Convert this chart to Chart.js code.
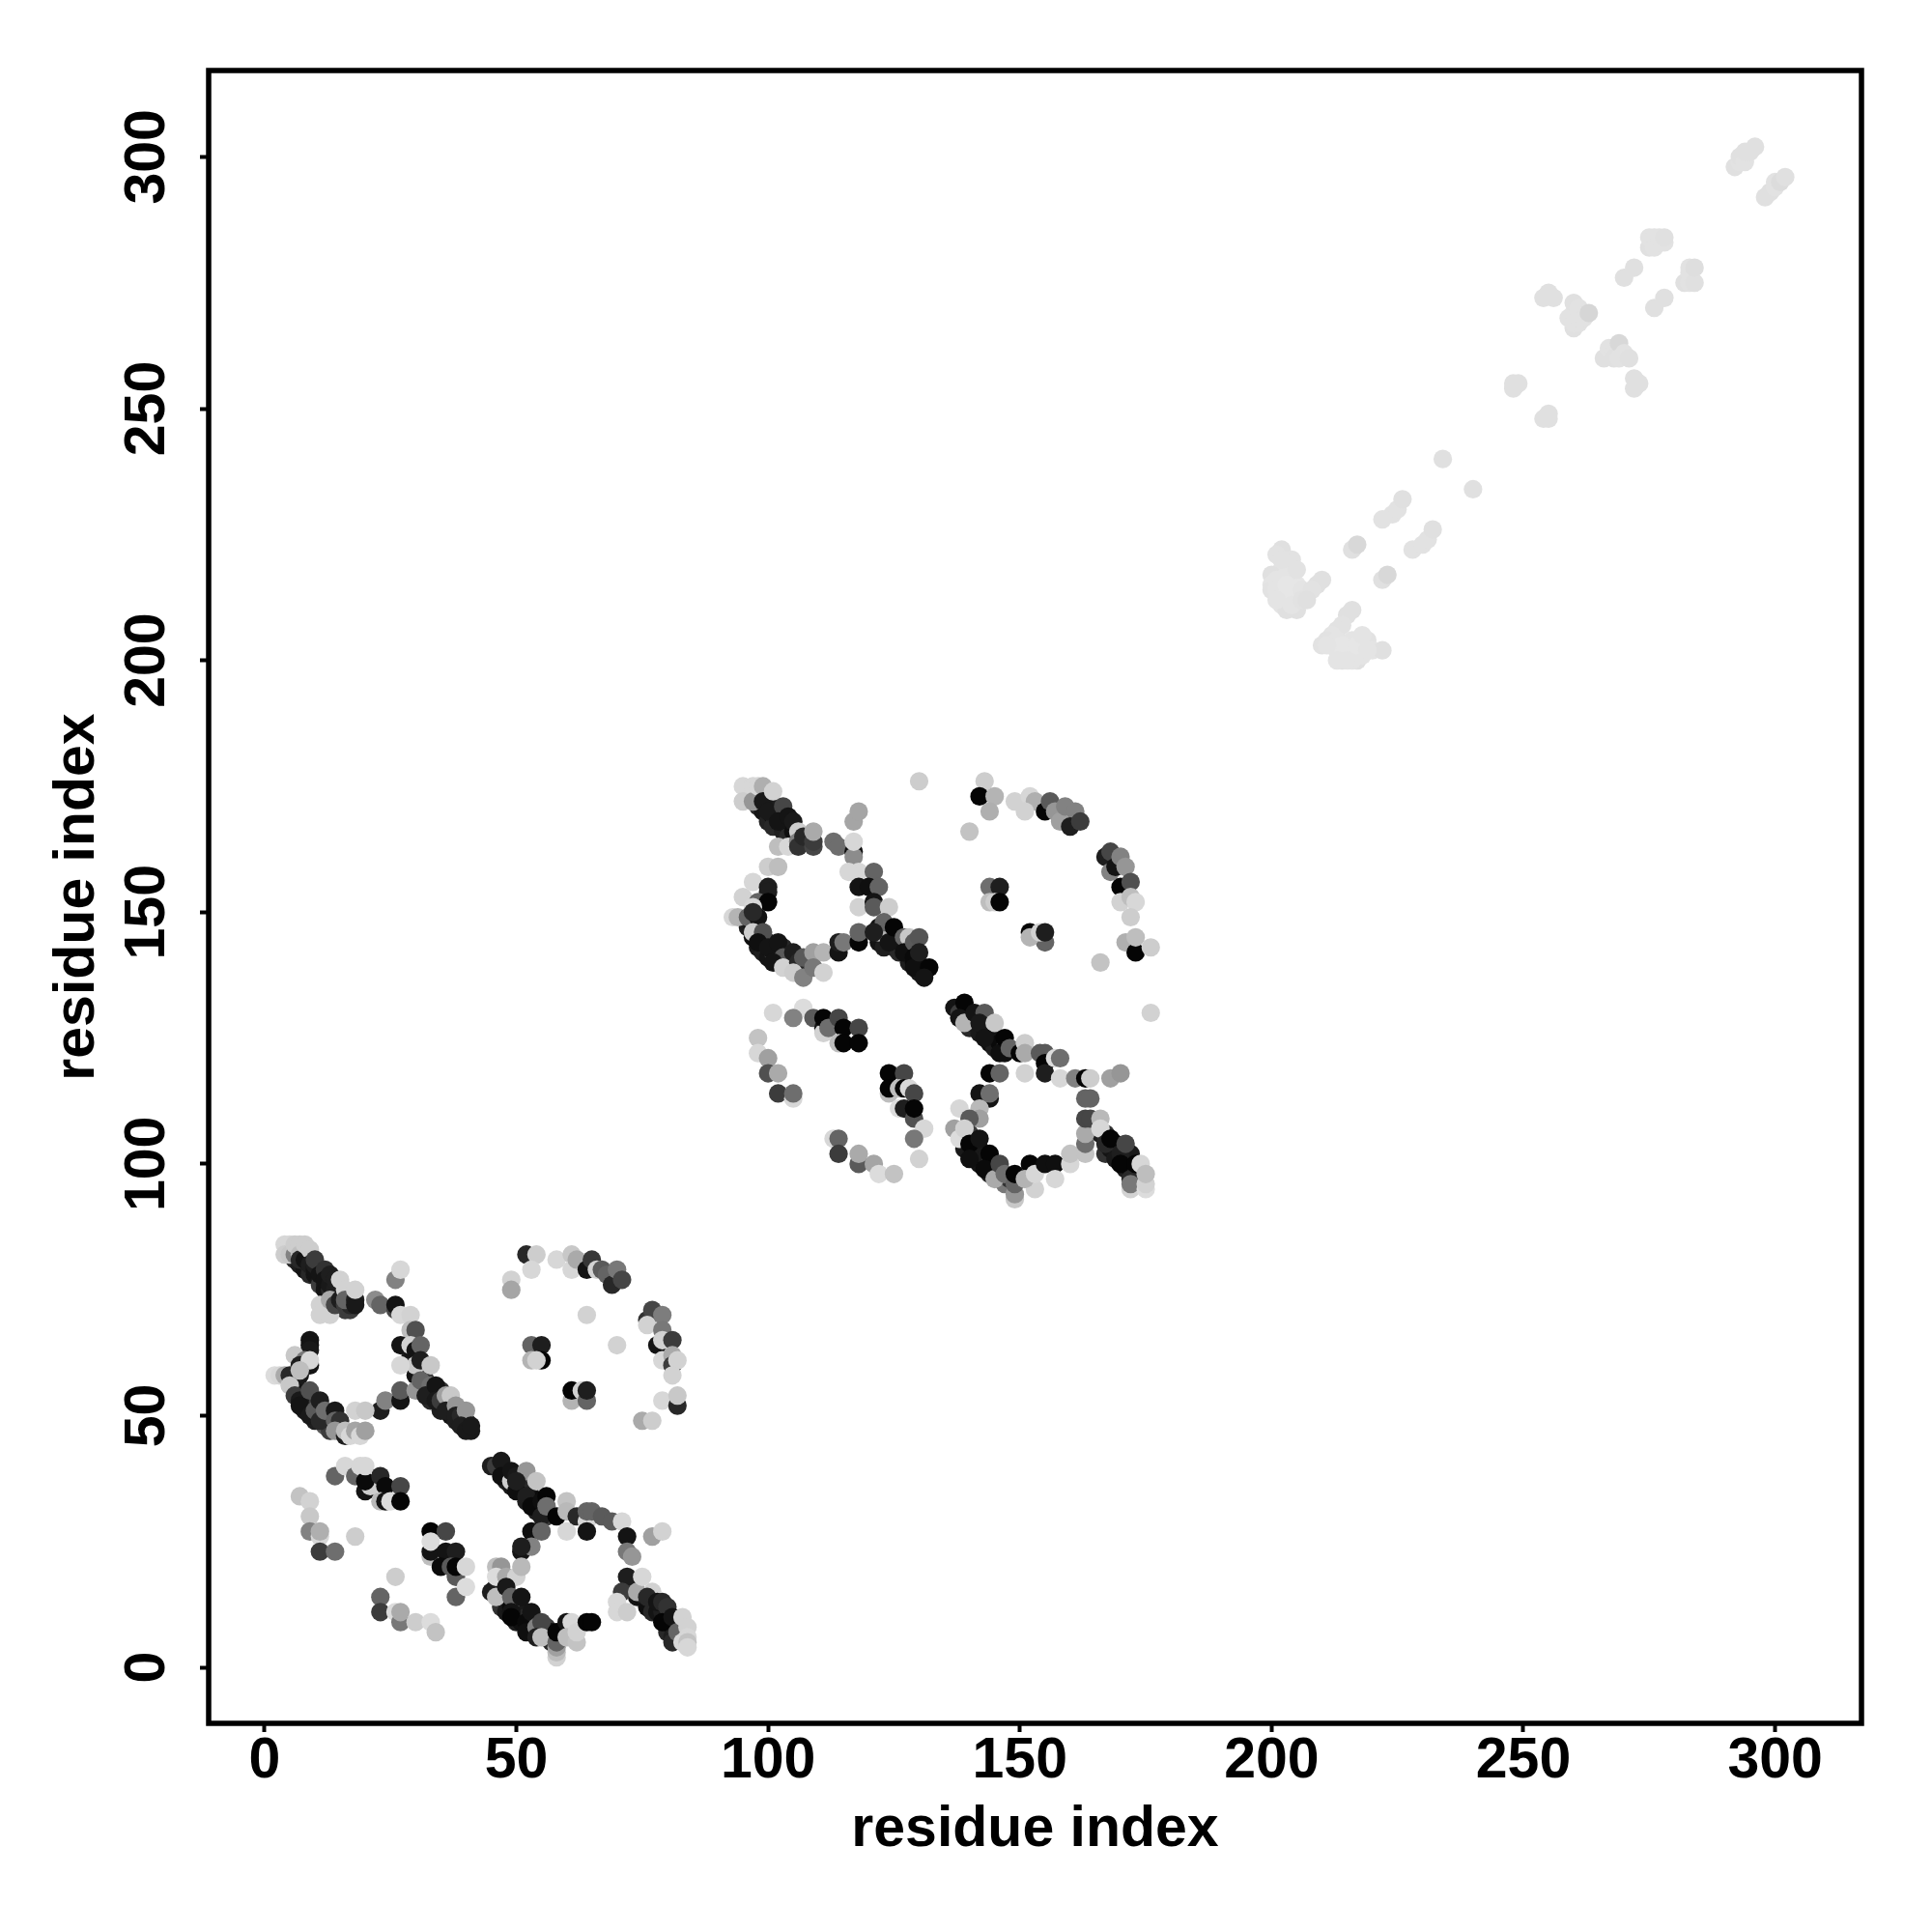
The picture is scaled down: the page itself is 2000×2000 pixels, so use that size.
<!DOCTYPE html>
<html>
<head>
<meta charset="utf-8">
<style>html,body{margin:0;padding:0;background:#fff}#w{width:2000px;height:2000px}</style>
<script src="https://cdn.jsdelivr.net/npm/chart.js@4"></script>
</head>
<body>
<div id="w"><canvas id="c" width="2000" height="2000"></canvas></div>
<script>
const tickValues = [0, 50, 100, 150, 200, 250, 300];
const axisTitle = 'residue index';

// each entry: residue i, residue j, grey shade of the contact
const denseBandsA = [
[6,81,40],[7,80,30],[8,80,25],[8,79,20],[9,79,30],[9,78,40],[10,78,20],[11,77,25],[11,76,60],[12,76,30],[12,75,20],[13,75,40],[14,74,30],[15,74,20],[15,72,50],[14,73,70],[16,71,60],[17,71,60],
[6,56,40],[6,55,30],[7,55,20],[8,54,30],[8,52,40],[8,51,25],[9,53,20],[10,53,60],[10,49,30],[11,51,20],[12,49,30],[12,48,90],[13,50,30],[13,47,60],[15,47,30],
[31,55,30],[32,57,60],[33,55,25],[33,53,40],[34,54,20],[35,55,50],[35,51,30],[36,52,25],[37,50,20],[37,52,40],[38,49,30],[39,51,20],[40,49,40],[41,47,25],
[29,62,40],[29,61,20],[30,58,20],[31,59,40]
];
const denseBandsB = [
[47,39,20],[48,38,20],[48,37,30],[49,36,25],[50,36,15],[51,37,30],[51,35,25],[52,36,40],[52,33,30],[53,34,20],[53,33,60],[54,33,10],[54,31,30],[55,32,10],[56,31,20],[56,30,60],
[46,16,40],[47,16,30],[47,14,20],[47,12,50],[48,13,15],[48,11,25],[49,12,10],[50,12,40],[50,10,20],[50,9,30],[51,11,70],[51,9,15],[52,11,25],[52,10,40],[53,8,20],[54,9,30],[55,7,30],[56,8,60],[57,7,20],[56,6,70],[57,5,40],
[73,16,40],[74,14,20],[75,14,15],[76,13,30],[76,12,15],[77,13,25],[77,11,40],[78,11,20],[79,11,30],[80,10,25],[80,8,15],[80,7,40],[81,8,20],[81,6,30],[82,9,25],[83,8,50]
];
const denseBandsC = [
[98,173,25],[98,171,40],[99,170,20],[100,172,30],[100,168,35],[101,169,20],[101,167,40],[102,170,30],[103,168,15],[103,166,30],[104,167,20],[104,165,40],[105,166,15],[106,165,40],
[96,147,30],[97,147,20],[97,145,15],[98,146,30],[98,143,25],[99,144,20],[99,142,30],[100,144,40],[100,141,20],[101,142,60],[102,142,20],[102,140,30],[103,143,40],[104,141,25],[104,139,40],[105,140,30],[106,138,120],
[122,147,20],[122,144,20],[123,145,15],[123,143,30],[124,146,40],[125,144,20],[125,143,30],[126,144,15],[126,142,40],[127,143,20],[128,142,25],[128,140,30],[129,140,10],[130,139,15],[130,138,25],[131,139,30]
];
const denseBandsD = [
[138,129,30],[139,130,30],[140,129,20],[140,127,40],[141,128,15],[142,129,30],[142,126,25],[143,127,20],[144,126,25],[144,124,15],[145,125,20],[145,123,30],[146,124,10],[147,122,15],[147,123,50],
[139,105,30],[139,103,25],[140,106,60],[141,103,15],[141,101,30],[141,104,60],[142,103,25],[142,100,20],[143,101,25],[144,100,40],[144,98,30],[145,99,25],[146,98,40],[147,96,120],[148,97,50],
[165,107,40],[166,106,30],[167,106,50],[167,102,50],[168,103,20],[169,104,15],[169,101,25],[170,103,40],[171,101,15],[171,99,30],[172,102,25],[172,99,15],[173,98,30],[173,96,60]
];
const helixPairA = [
[4,84,215],[5,84,215],[4,82,205],[5,82,200],[6,82,130],[6,84,205],[7,84,205],[7,82,190],[7,81,40],[8,81,20],[8,84,205],[9,83,205],[9,80,30],[10,79,20],[10,80,30],[10,81,60],[11,78,20],[12,79,50],[12,77,20],[13,76,25],[13,78,30],[14,75,30],[14,77,30],[15,77,210],[11,72,210],[11,70,210],[13,70,210],[13,73,170],[14,72,70],[15,73,30],[16,75,210],[16,72,60],[17,72,40],[16,73,100],[18,73,30],[18,72,25],[18,75,210]
];
const ringLoopA = [
[22,73,140],[23,72,100],[26,71,70],[26,72,20],[27,70,215],[29,70,210],[26,77,130],[27,79,215],[29,67,190],[30,67,80],[27,64,20],[29,64,210],[30,63,20],[31,64,100],[30,60,200],[27,60,215],[31,61,30],[33,60,200],
[23,51,30],[24,53,130],[27,53,20],[27,55,90],
[9,65,20],[9,64,20],[9,63,25],[6,62,200],[8,61,120],[7,60,30],[9,60,20],[9,61,215],[2,58,220],[3,58,215],[4,58,170],[5,58,40],[7,58,25],[7,59,190],[5,56,200],
[6,54,60],[7,53,25],[7,52,20],[9,55,80],[9,50,25],[10,51,90],[11,53,30],[11,49,40],[12,51,110],[14,51,25],[14,49,100],[15,49,50],[14,47,150],[16,46,30],[16,47,190],[17,46,215],[18,51,210],[20,51,200],[18,47,165],[19,46,215],[20,47,160]
];
const helixEndA = [
[30,55,150],[31,57,100],[33,56,110],[32,54,30],[34,56,20],[34,53,25],[35,53,60],[36,54,160],[37,54,200],[36,51,30],[38,52,150],[38,50,30],[39,50,40],[40,51,150],[39,48,30],[40,47,25],[41,48,25]
];
const outerArcA = [
[52,82,40],[54,82,205],[53,79,215],[49,77,210],[49,75,165],[58,81,215],[61,82,200],[61,79,215],[62,81,170],[64,79,20],[65,81,55],[66,79,210],[67,79,90],[68,78,100],[69,76,40],[70,79,120],[71,77,70],
[76,69,50],[77,71,70],[76,68,210],[79,70,125],[78,64,20],[79,67,120],[79,65,210],[81,65,60],[79,61,215],[81,62,170],[81,60,60],[82,61,210],[81,58,210],[79,53,215],[82,52,40],[82,54,200],[75,49,170],[77,49,205],
[64,70,210],[70,64,210],[53,64,100],[55,64,30],[55,61,5],[53,61,180],[54,61,210],[61,53,180],[61,55,5],[63,55,210],[64,53,100],[64,55,30]
];
const innerArcA = [
[7,34,195],[9,33,210],[9,30,200],[9,27,130],[11,26,215],[11,27,175],[11,23,60],[14,23,110],[18,26,205],
[14,38,100],[16,40,215],[18,38,100],[20,35,20],[21,36,205],[19,40,215],[20,37,10],[20,40,215],[23,38,40],[24,36,10],[27,36,70],[23,33,185],[24,33,20],[25,33,220],[27,33,5],
[33,27,5],[36,27,70],[33,22,190],[33,23,20],[33,25,220],[36,23,20],[38,23,30],[35,20,10],[38,18,90],[37,20,90],[38,20,5],[40,20,215],[38,14,100],[40,16,220],
[26,18,205],[23,14,100],[23,11,60],[26,11,220],[27,9,120],[27,11,170],[30,9,205],[33,9,220],[34,7,195]
];
const helixPairB = [
[45,40,30],[46,40,60],[47,41,25],[47,38,15],[49,37,205],[49,39,20],[50,38,25],[52,39,150],[50,35,15],[50,37,30],[52,34,30],[54,37,195],[53,32,10],[55,33,15],[56,34,5],[55,30,30],[56,32,110],[58,30,5],[60,33,195],[60,31,185],[60,27,215],[62,30,40],[64,29,215],[64,27,20],[64,31,100],[65,31,100],[67,30,90],[69,29,90],[71,29,215],[72,26,20],[77,26,160],[79,27,210],
[53,27,15],[55,27,100],[51,23,20],[53,24,130],[51,24,30]
];
const ringLoopB = [
[72,23,120],[73,22,150],[72,18,30],[71,15,60],[74,15,170],[75,18,215],[70,13,215],[70,11,215],[72,11,205],[77,15,210],
[45,15,30],[46,20,190],[47,20,150],[46,18,220],[48,18,170],[50,18,210],[51,20,185],[46,14,190],[48,16,25],[49,14,100],[49,11,20],[51,14,20],[49,10,5],[52,9,10],[53,11,20],[52,7,15],[54,8,130],[55,9,70],[54,6,30],[55,6,190],
[58,2,210],[58,3,190],[58,4,160],[58,5,100],[58,7,5],[60,9,20],[61,9,215],[60,6,190],[62,5,195],[62,7,210],[64,9,5],[65,9,5]
];
const helixEndB = [
[76,14,40],[78,13,20],[79,13,40],[80,12,50],[79,9,5],[81,10,20],[81,5,40],[82,7,100],[83,5,215],[83,10,210],[84,8,210],[84,6,215],[84,5,195],[84,4,215]
];
const helixPairC = [
[95,175,215],[95,172,205],[97,175,215],[97,172,150],[98,175,215],[99,175,175],[99,172,25],[100,170,25],[101,174,210],[103,171,70],[102,168,20],[104,169,20],[105,168,25],[106,166,205],
[102,163,190],[104,163,215],[106,164,130],[106,163,50],[107,165,40],[109,163,70],[109,164,60],[109,166,170],[113,164,110],[114,163,110],[117,162,15],[117,161,140],[117,164,215],[117,168,165],[118,170,165],[130,176,205]
];
const ringLoopC = [
[100,159,205],[102,159,190],[97,156,215],[100,155,30],[100,154,30],[95,153,210],[98,152,100],[100,152,5],[97,151,215],[93,149,215],[94,149,180],[96,149,100],[98,149,20],[97,150,40],
[97,146,205],[99,146,80],[98,144,15],[100,143,20],[102,144,20],[103,141,90],[101,140,20],[105,142,30],[103,139,210],[106,140,40],[107,141,90],[105,138,205],[107,137,130],[109,142,160],[111,142,180],[109,139,120],[111,138,210],
[118,158,215],[116,158,215],[121,158,100],[118,155,20],[120,155,15],[122,155,100],[118,151,210],[121,152,20],[121,151,90],[124,151,205],
[114,142,20],[114,144,30],[115,144,120],[118,144,5],[118,146,100]
];
const helixEndC = [
[122,146,180],[123,148,100],[121,146,30],[124,144,20],[125,147,5],[127,145,100],[128,145,200],[127,142,15],[129,144,90],[130,145,85],[129,141,10],[129,139,15],[130,142,30],[132,139,5],[131,137,20]
];
const outerArcC = [
[143,176,205],[142,173,5],[145,173,180],[144,170,175],[140,166,195],[149,172,210],[152,173,215],[153,172,175],[151,170,210],[155,170,5],[156,172,90],[157,170,150],[158,168,160],[159,171,130],[161,170,130],[160,167,30],[162,168,60],
[167,161,30],[168,162,70],[168,158,130],[169,159,20],[170,161,130],[171,159,150],[170,155,5],[172,156,80],[170,152,210],[172,153,190],[173,152,215],[172,149,205],[171,144,175],[173,142,5],[173,145,190],[176,143,205],[166,140,195],
[144,155,110],[146,155,30],[144,152,190],[145,152,205],[146,152,5],[152,146,5],[155,144,100],[152,145,180],[154,146,210],[155,146,30]
];
const innerArcC = [
[101,130,215],[107,131,220],[105,129,130],[109,129,90],[111,127,20],[111,126,210],[111,129,5],[112,127,110],[114,129,70],[115,127,5],[114,124,190],[115,124,5],[118,127,70],[118,124,5],
[98,125,195],[98,122,215],[100,121,160],[100,118,80],[102,118,170],[102,114,60],[105,113,215],[105,114,110],
[124,118,5],[127,118,70],[124,114,190],[124,115,5],[126,115,190],[127,115,5],[128,115,215],[129,114,70],[126,111,220],[127,111,30],[129,109,80],[129,111,5],[131,107,215],[129,105,120],[130,101,210],
[113,105,215],[114,105,100],[114,102,60],[118,100,90],[118,102,170],[121,100,165],[122,98,220],[125,98,195]
];
const helixPairD = [
[137,131,20],[138,130,60],[139,132,5],[138,129,20],[139,128,180],[141,130,20],[143,130,90],[142,128,25],[145,128,200],[143,125,20],[146,122,15],[147,125,5],[148,123,100],[150,122,5],[151,124,205],[151,122,170],[151,118,210],[154,122,90],[155,122,90],[155,120,5],[155,118,30],[157,121,220],[158,121,110],[158,117,215],[161,117,130],[163,117,5],[164,117,205],[168,117,160],[170,118,150],
[144,118,5],[146,118,100],[142,114,20],[144,113,20],[144,114,110]
];
const ringLoopD = [
[138,111,215],[142,111,185],[142,109,160],[140,109,90],[137,107,160],[138,105,220],[139,107,210],[140,104,5],[142,105,20],[140,101,15],[144,102,5],[143,99,10],[145,97,170],[146,100,70],[147,98,110],[149,93,200],[149,94,150],[149,96,100],[149,98,5],
[152,100,5],[153,95,210],[151,97,180],[153,98,215],[155,100,15],[157,100,15],[157,97,215],[160,100,215],[160,102,195],
[163,113,100],[164,113,100],[163,102,195],[163,104,110],[163,106,170],[163,109,70],[164,109,70],[166,109,185],[166,107,215]
];
const helixEndD = [
[167,104,40],[168,105,5],[170,102,30],[171,104,70],[170,100,5],[172,97,40],[173,100,5],[172,95,210],[172,96,120],[174,100,215],[175,95,220],[175,96,210],[175,98,190],[176,130,210]
];
const faintClusterE = [
[202,222,224],[203,219,224],[202,218,226],[204,218,226],[200,217,224],[200,215,228],[204,216,230],[200,214,226],[202,213,230],[205,215,230],[205,213,228],[202,211,228],[203,210,224],[205,210,224],
[201,221,226],[201,216,228],[201,214,228],[203,217,228],[203,215,230],[203,213,230],[204,211,228],[201,212,228],[206,214,228],[206,212,226],[204,220,226],[202,220,226],[205,218,226],
[210,216,224],[209,215,224],[208,214,226],[207,212,224],[216,210,224],[215,209,224],[214,207,226],[213,206,226],[212,205,228],[211,204,226],[210,203,226],
[214,200,224],[217,200,224],[213,202,228],[215,203,230],[216,204,228],[218,203,230],[217,201,228],[219,204,226],[220,202,228],[222,202,224],
[212,203,228],[213,204,228],[214,203,230],[214,201,230],[215,201,230],[216,202,230],[216,200,228],[215,200,228],[218,201,228],[217,203,230],[219,202,228],[213,200,228],[211,203,228],[218,205,228],
[216,222,224],[217,223,216],[222,216,224],[223,217,216],[222,228,226],[224,229,226],[225,230,226],[226,232,224],[228,222,226],[230,223,226],[231,224,226],[232,226,224],[234,240,224],[240,234,224]
];
const faintClusterF = [
[248,254,224],[248,255,224],[249,255,224],[254,248,224],[255,248,224],[255,249,224],
[254,272,224],[256,272,224],[255,273,224],[259,268,226],[260,266,224],[260,269,226],[260,271,224],[260,267,226],[261,267,226],[261,268,226],[261,270,226],[262,268,226],[263,269,214],
[266,260,224],[267,262,226],[268,261,226],[268,260,224],[269,263,216],[269,260,226],[270,261,226],[271,260,224],[272,254,224],[273,255,224],[272,256,224],
[270,276,224],[272,278,224],[276,270,224],[278,272,224],
[275,282,224],[275,284,226],[276,284,226],[276,282,226],[277,283,226],[277,284,226],[278,283,226],[278,284,224],[282,275,224],[283,275,226],[283,277,226],[283,278,226],[284,275,224],[284,278,222],
[292,298,224],[293,299,226],[293,300,224],[294,299,226],[294,301,224],[295,301,224],[296,302,224],[298,292,224],[299,293,224],[300,294,226],[300,295,226],[301,295,220],[302,296,224]
];

const contacts = [].concat(
  faintClusterE, faintClusterF,
  denseBandsA, helixPairA, ringLoopA, helixEndA, outerArcA, innerArcA,
  denseBandsB, helixPairB, ringLoopB, helixEndB,
  denseBandsC, helixPairC, ringLoopC, helixEndC, outerArcC, innerArcC,
  denseBandsD, helixPairD, ringLoopD, helixEndD
);

const labelFont = {family: '"Liberation Sans", Arial, sans-serif', size: 59, weight: 'bold'};
const frame = {
  id: 'frame',
  afterDatasetsDraw(chart) {
    const a = chart.chartArea, g = chart.ctx;
    g.save();
    g.strokeStyle = '#000';
    g.lineWidth = 5.5;
    g.strokeRect(a.left, a.top, a.right - a.left, a.bottom - a.top);
    g.restore();
  }
};
const setTicks = s => { s.ticks = tickValues.map(v => ({value: v, label: String(v)})); };
const axisGrid = {display: true, drawOnChartArea: false, drawTicks: true, tickLength: 9, tickWidth: 4, color: '#000', tickColor: '#000'};

new Chart(document.getElementById('c'), {
  type: 'scatter',
  data: {datasets: [{
    data: contacts.map(c => ({x: c[0], y: c[1]})),
    pointRadius: 9.6,
    pointHoverRadius: 9.6,
    pointBorderWidth: 0,
    pointBackgroundColor: contacts.map(c => `rgb(${c[2]},${c[2]},${c[2]})`),
    showLine: false
  }]},
  plugins: [frame],
  options: {
    responsive: false,
    animation: false,
    layout: {padding: {top: 73, right: 73, left: 0, bottom: 0}},
    plugins: {legend: {display: false}, tooltip: {enabled: false}, title: {display: false}},
    scales: {
      x: {
        type: 'linear', min: -11.1, max: 317.15,
        afterBuildTicks: setTicks,
        afterFit: s => { s.height = 216; },
        grid: axisGrid,
        border: {display: false},
        ticks: {font: labelFont, color: '#000', padding: -5, maxRotation: 0, minRotation: 0, autoSkip: false},
        title: {display: true, text: axisTitle, font: labelFont, color: '#000', padding: {top: 0, bottom: 70}}
      },
      y: {
        type: 'linear', min: -11.1, max: 317.15,
        afterBuildTicks: setTicks,
        afterFit: s => { s.width = 216; },
        grid: axisGrid,
        border: {display: false},
        ticks: {font: labelFont, color: '#000', padding: 4, minRotation: 90, maxRotation: 90, autoSkip: false, crossAlign: 'center'},
        title: {display: true, text: axisTitle, font: labelFont, color: '#000', padding: {top: 45, bottom: 0}}
      }
    }
  }
});
</script>
</body>
</html>
